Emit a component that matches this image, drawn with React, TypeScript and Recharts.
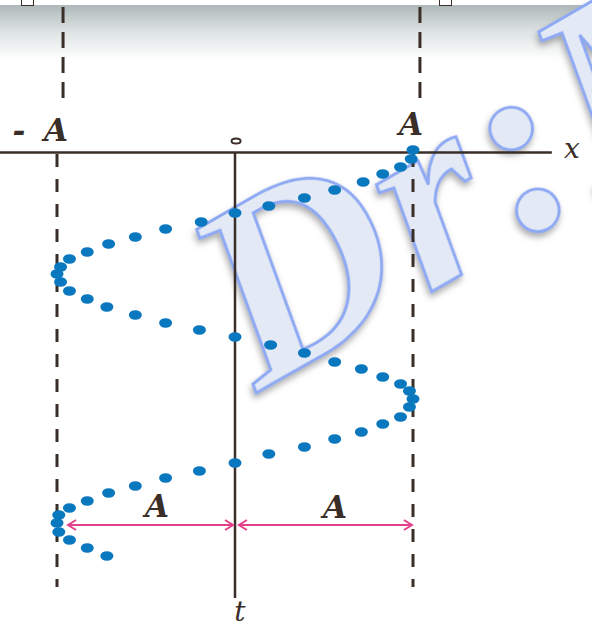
import React from 'react';
import { ScatterChart, Scatter, XAxis, YAxis, ReferenceLine, ReferenceDot } from 'recharts';

const dotX = [
  1.0, 0.99, 0.93, 0.83, 0.72, 0.56, 0.39, 0.19, 0, -0.19, -0.39, -0.56, -0.71, -0.83, -0.93, -0.98,
  -1.0, -0.98, -0.93, -0.83, -0.72, -0.56, -0.39, -0.2, 0, 0.2, 0.39, 0.56, 0.71, 0.83, 0.93, 0.98,
  1.0, 0.98, 0.93, 0.83, 0.71, 0.56, 0.39, 0.19, 0, -0.2, -0.39, -0.56, -0.71, -0.83, -0.93, -0.99,
  -1.0, -0.99, -0.93, -0.83, -0.72,
];
const dotT = [
  0, 9, 17, 24, 32, 40, 48, 56, 63, 72, 79, 87, 94, 102, 109, 117,
  124, 132, 141, 149, 157, 165, 173, 180, 187, 195, 203, 212, 219, 227, 234, 241,
  249, 257, 267, 274, 282, 289, 297, 304, 313, 321, 328, 336, 343, 351, 358, 365,
  373, 382, 390, 398, 406,
];

const points = dotX.map((x, i) => ({ x, t: dotT[i] }));

const INK = '#3a2e28';
const PINK = '#e4418b';
const BLUE = '#0a78be';
const SERIF = "'DejaVu Serif', 'Liberation Serif', serif";

const Dot = (props: any) => <ellipse cx={props.cx} cy={props.cy} rx={6.5} ry={4.8} fill={BLUE} />;

const textShape = (text: string, size: number, bold = true) => (props: any) => (
  <text
    x={props.cx}
    y={props.cy}
    textAnchor="middle"
    fontFamily={SERIF}
    fontStyle="italic"
    fontWeight={bold ? 'bold' : 'normal'}
    fontSize={size}
    fill={INK}
  >
    {text}
  </text>
);

const minusA = (props: any) => (
  <text y={props.cy} fontFamily={SERIF} fontStyle="italic" fontWeight="bold" fontSize={31} fill={INK}>
    <tspan x={props.cx - 37} textAnchor="middle">-</tspan>
    <tspan x={props.cx} textAnchor="middle">A</tspan>
  </text>
);

const origin = (props: any) => (
  <ellipse cx={props.cx} cy={props.cy} rx={4.5} ry={2.5} fill="#fff" stroke={INK} strokeWidth={2} />
);

const DoubleArrow = (p: any) => {
  const { x1, y1, x2, y2 } = p;
  return (
    <g stroke={PINK} strokeWidth={2} fill="none">
      <line x1={x1} y1={y1} x2={x2} y2={y2} />
      <path d={`M${x1 + 8},${y1 - 5} L${x1},${y1} L${x1 + 8},${y1 + 5}`} />
      <path d={`M${x2 - 8},${y2 - 5} L${x2},${y2} L${x2 - 8},${y2 + 5}`} />
    </g>
  );
};

export default function App() {
  return (
    <div style={{ position: 'absolute', left: 0, top: 0, width: 592, height: 627, overflow: 'hidden', background: '#fff' }}>
      <div
        style={{
          position: 'absolute', left: 0, top: 5, width: 592, height: 55,
          background: 'linear-gradient(#aeb8b8, #dfe4e4 50%, #ffffff)',
        }}
      />
      <div style={{ position: 'absolute', left: 21, top: -2, width: 11, height: 6, border: `1.5px solid ${INK}` }} />
      <div style={{ position: 'absolute', left: 439, top: -2, width: 11, height: 6, border: `1.5px solid ${INK}` }} />
      <svg width={592} height={627} style={{ position: 'absolute', left: 0, top: 0 }}>
        <defs>
          <filter id="wm" x="-20%" y="-20%" width="140%" height="140%">
            <feDropShadow dx={-3} dy={3} stdDeviation={3} floodColor="#777" floodOpacity={0.6} />
          </filter>
        </defs>
        <text
          x={258}
          y={392}
          transform="rotate(-30 258 392)"
          fontFamily="'Liberation Serif', serif"
          fontStyle="italic"
          fontWeight="bold"
          fontSize={262}
          letterSpacing={6}
          fill="#e3eaf5"
          stroke="#8ea9f3"
          strokeWidth={3}
          filter="url(#wm)"
        >
          Dr:M
        </text>
      </svg>
      <div style={{ position: 'absolute', left: 0, top: 0 }}>
        <ScatterChart width={592} height={627} margin={{ top: 150, right: 179, bottom: 27, left: 57 }}>
          <XAxis type="number" dataKey="x" domain={[-1, 1]} hide />
          <YAxis type="number" dataKey="t" domain={[0, 450]} reversed hide />
          <ReferenceLine segment={[{ x: -0.966, y: -143 }, { x: -0.966, y: -50 }]} stroke={INK} strokeWidth={3} strokeDasharray="16 9" ifOverflow="visible" />
          <ReferenceLine segment={[{ x: 1.039, y: -143 }, { x: 1.039, y: -50 }]} stroke={INK} strokeWidth={3} strokeDasharray="16 9" ifOverflow="visible" />
          <ReferenceLine segment={[{ x: -1, y: 4 }, { x: -1, y: 437 }]} stroke={INK} strokeWidth={3} strokeDasharray="13 12" ifOverflow="visible" />
          <ReferenceLine segment={[{ x: 1, y: 4 }, { x: 1, y: 437 }]} stroke={INK} strokeWidth={3} strokeDasharray="13 12" ifOverflow="visible" />
          <ReferenceLine segment={[{ x: -1.33, y: 2.5 }, { x: 1.78, y: 2.5 }]} stroke={INK} strokeWidth={2.5} ifOverflow="visible" />
          <ReferenceLine segment={[{ x: 0, y: 2 }, { x: 0, y: 448 }]} stroke={INK} strokeWidth={2.5} ifOverflow="visible" />
          <ReferenceLine segment={[{ x: -0.938, y: 375 }, { x: -0.011, y: 375 }]} shape={DoubleArrow} ifOverflow="visible" />
          <ReferenceLine segment={[{ x: 0.022, y: 375 }, { x: 0.994, y: 375 }]} shape={DoubleArrow} ifOverflow="visible" />
          <ReferenceDot x={-1.006} y={-9} r={0} shape={minusA} ifOverflow="visible" />
          <ReferenceDot x={0.989} y={-15} r={0} shape={textShape('A', 31)} ifOverflow="visible" />
          <ReferenceDot x={-0.438} y={367} r={0} shape={textShape('A', 31)} ifOverflow="visible" />
          <ReferenceDot x={0.562} y={368} r={0} shape={textShape('A', 31)} ifOverflow="visible" />
          <ReferenceDot x={1.893} y={8} r={0} shape={textShape('x', 28, false)} ifOverflow="visible" />
          <ReferenceDot x={0.028} y={471} r={0} shape={textShape('t', 28, false)} ifOverflow="visible" />
          <ReferenceDot x={0.006} y={-9} r={0} shape={origin} ifOverflow="visible" />
          <Scatter data={points} shape={Dot} isAnimationActive={false} />
        </ScatterChart>
      </div>
    </div>
  );
}
